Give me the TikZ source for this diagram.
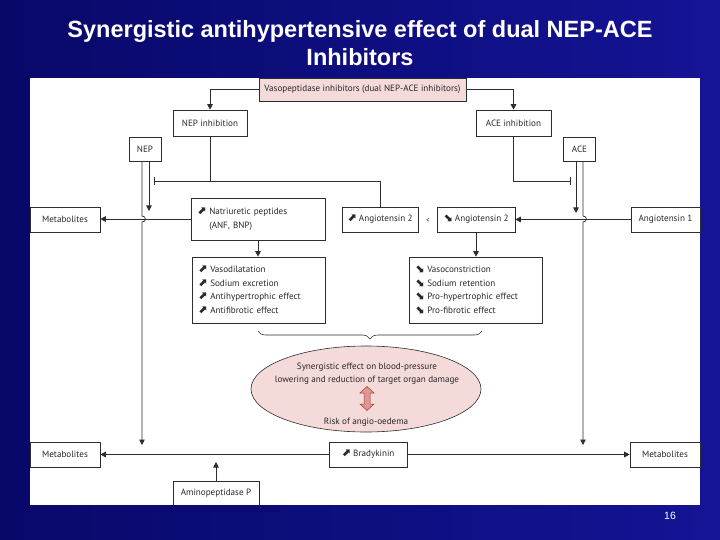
\documentclass[tikz,border=0pt]{standalone}
\usepackage{fontspec}
\setmainfont{PT Sans}
\newfontfamily\titlefont{Liberation Sans}
\newfontfamily\symfont{DejaVu Sans}
\usetikzlibrary{arrows.meta,shapes.geometric,shapes.arrows,decorations.pathreplacing}
\definecolor{navyA}{RGB}{8,8,105}
\definecolor{navyB}{RGB}{20,20,150}
\definecolor{pinkc}{RGB}{244,218,216}
\definecolor{linec}{RGB}{45,45,45}
\definecolor{textc}{RGB}{40,40,40}
\definecolor{darkred}{RGB}{150,60,60}
\definecolor{arrpink}{RGB}{225,150,145}
\newcommand\arrUp{{\symfont\bfseries\fontsize{11}{10}\selectfont ⬈}}
\newcommand\arrDn{{\symfont\bfseries\fontsize{11}{10}\selectfont ⬊}}
\tikzset{
  ln/.style={draw=linec, line width=0.75pt},
  arr/.style={ln, -{Triangle[length=5.5pt,width=5.5pt]}},
  tbar/.style={ln, -{Bar[width=8pt]}},
  box/.style={draw=linec, line width=0.6pt, fill=white, text=textc,
    font=\fontsize{9.1}{10}\selectfont, inner sep=2pt, minimum height=25pt},
  txt/.style={text=textc, font=\fontsize{9.1}{12.5}\selectfont, inner sep=0pt},
}
\begin{document}
\begin{tikzpicture}[x=1pt,y=-1pt]
\useasboundingbox (0,0) rectangle (720,540);
\shade[left color=navyA, right color=navyB] (0,0) rectangle (720,540);
\fill[white] (30,78) rectangle (700,505);

\node[text=white, align=center, font=\titlefont\bfseries\fontsize{23.5}{28}\selectfont] (title) at (360,43) {Synergistic antihypertensive effect of dual NEP-ACE\\Inhibitors};
\node[text=white, font=\titlefont\fontsize{10.5}{12}\selectfont] (pg) at (670,516) {16};

% top row
\node[box, fill=pinkc, minimum width=207pt, minimum height=23pt, inner xsep=1pt] (vaso) at (362.5,89.5) {Vasopeptidase inhibitors (dual NEP-ACE inhibitors)};
\node[box, minimum width=74pt, minimum height=26pt] (nepinh) at (210,123) {NEP inhibition};
\node[box, minimum width=75pt, minimum height=26pt] (aceinh) at (513.5,123) {ACE inhibition};
\node[box, minimum width=32pt, minimum height=24pt] (nep) at (145,149.5) {NEP};
\node[box, minimum width=32pt, minimum height=24pt] (ace) at (579.5,149.5) {ACE};

% middle row
\node[box, minimum width=70pt] (metL) at (65,219.5) {Metabolites};
\node[box, minimum height=42pt, text width=122pt, inner xsep=6pt, align=left, font=\fontsize{9.1}{14}\selectfont] (natri) at (258,219) {\arrUp\ Natriuretic peptides\\\phantom{\arrUp\ }(ANF, BNP)};
\node[box, minimum width=76pt, inner xsep=1pt] (ang2L) at (380,219.5) {\arrUp\ Angiotensin 2};
\node[txt, font=\fontsize{7}{8}\selectfont] (lt) at (428,220.5) {<};
\node[box, minimum width=78pt, inner xsep=1pt] (ang2R) at (476,219.5) {\arrDn\ Angiotensin 2};
\node[box, minimum width=69pt] (ang1) at (665.5,219.5) {Angiotensin 1};

% effects
\node[box, minimum height=66pt, text width=121pt, inner xsep=6pt, align=left, font=\fontsize{9.1}{13.5}\selectfont] (effL) at (258.5,290) {\arrUp\ Vasodilatation\\\arrUp\ Sodium excretion\\\arrUp\ Antihypertrophic effect\\\arrUp\ Antifibrotic effect};
\node[box, minimum height=66pt, text width=121pt, inner xsep=6pt, align=left, font=\fontsize{9.1}{13.5}\selectfont] (effR) at (475.5,290) {\arrDn\ Vasoconstriction\\\arrDn\ Sodium retention\\\arrDn\ Pro-hypertrophic effect\\\arrDn\ Pro-fibrotic effect};

% brace and ellipse
\draw[ln, line width=0.6pt, decorate, decoration={brace, amplitude=8pt}] (482,331) -- (258,331);
\node[ellipse, draw=linec, line width=0.6pt, fill=pinkc, minimum width=230pt, minimum height=86pt] (ell) at (366,389) {};
\node[txt, align=center] (syn) at (367,373.5) {Synergistic effect on blood-pressure\\lowering and reduction of target organ damage};
\filldraw[draw=darkred, fill=arrpink, line width=0.5pt, line join=miter]
  (367,386.5) -- (374,393) -- (370,393) -- (370,404) -- (374,404) -- (367,410.5)
  -- (360,404) -- (364,404) -- (364,393) -- (360,393) -- cycle;
\node[txt] (risk) at (366,422) {Risk of angio-oedema};

% bottom row
\node[box, minimum width=70pt] (metBL) at (65,454.5) {Metabolites};
\node[box, minimum width=78pt] (brady) at (368,454.5) {\arrUp\ Bradykinin};
\node[box, minimum width=70pt] (metBR) at (665,454.5) {Metabolites};
\node[box, minimum width=86pt, minimum height=24pt] (amino) at (216,493) {Aminopeptidase P};
\fill[navyA!80!navyB] (150,505.3) rectangle (280,512);

% coordinates for free ends
\coordinate (nepTip) at (142,445);
\coordinate (aceTip) at (583,445);
\coordinate (aminoTip) at (216,462);

% connectors
\draw[arr] (vaso.west) -| (nepinh.north);
\draw[arr] (vaso.east) -| (aceinh.north);
\draw[tbar] (nepinh.south) |- (154,181);
\draw[ln] (ang2L.north) |- (210,181);
\draw[tbar] (aceinh.south) |- (571,181);

\draw[arr] ([xshift=-3pt]nep.south) -- (142,216) .. controls +(4.5,0) and +(4.5,0) .. (142,222) -- (nepTip);
\draw[arr] ([xshift=4pt]nep.south) -- (149,211);
\draw[arr] ([xshift=-3.5pt]ace.south) -- (576,213);
\draw[arr] ([xshift=3.5pt]ace.south) -- (583,216) .. controls +(4.5,0) and +(4.5,0) .. (583,222) -- (aceTip);

\draw[arr] (natri.west) -- (natri.west -| metL.east);
\draw[arr] (ang1.west) -- (ang1.west -| ang2R.east);
\draw[arr] (natri.south) -- (natri.south |- effL.north);
\draw[arr] (ang2R.south) -- (ang2R.south |- effR.north);

\draw[arr] (brady.west) -- (metBL.east);
\draw[arr] (brady.east) -- (metBR.west);
\draw[arr] (amino.north) -- (aminoTip);
\end{tikzpicture}
\end{document}
